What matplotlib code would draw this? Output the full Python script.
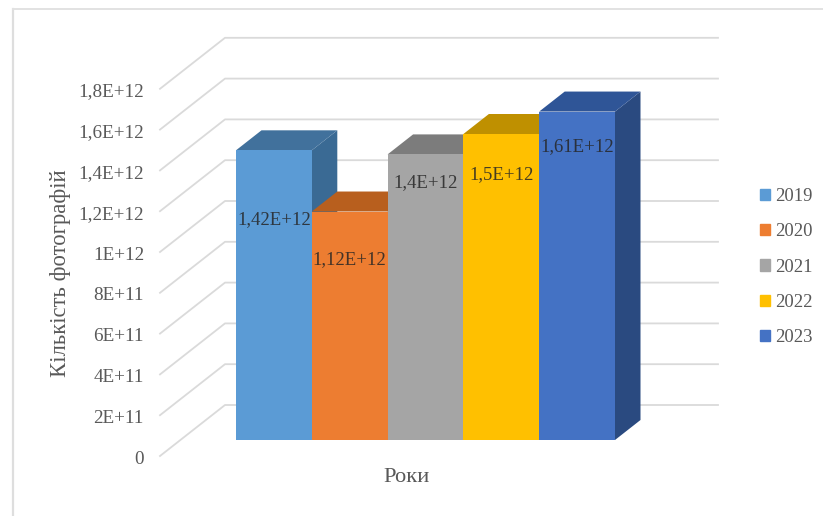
import matplotlib
matplotlib.use('Agg')
import matplotlib.pyplot as plt
from matplotlib.patches import Patch

years = ['2019', '2020', '2021', '2022', '2023']
values = [1.42e12, 1.12e12, 1.40e12, 1.50e12, 1.61e12]
value_labels = ['1,42E+12', '1,12E+12', '1,4E+12', '1,5E+12', '1,61E+12']
tick_values = [0, 2e11, 4e11, 6e11, 8e11, 1e12, 1.2e12, 1.4e12, 1.6e12, 1.8e12]
tick_labels = ['0', '2E+11', '4E+11', '6E+11', '8E+11', '1E+12',
               '1,2E+12', '1,4E+12', '1,6E+12', '1,8E+12']

front_colors = ['#5B9BD5', '#ED7D31', '#A5A5A5', '#FFC000', '#4472C4']
top_colors = ['#41719C', '#B85F1E', '#7C7C7C', '#BF9000', '#2F5597']
side_colors = ['#3A6A94', '#A85418', '#707070', '#AD8200', '#2A4A80']
# how far below the top of each bar its label sits, pixels
label_drop = [69, 48, 28, 41, 35]

W, H = 823, 516
BAR_PX = 75.8          # one category slot
BAR_LEFT = 236
BASE_Y = 440
PX_PER_VALUE = 204 / 1e12

plt.rcParams['font.family'] = ['Liberation Serif', 'DejaVu Serif']

fig = plt.figure(figsize=(W / 100, H / 100), dpi=100)
ax = fig.add_axes([0, 0, 1, 1])
ax.set_xlim(-BAR_LEFT / BAR_PX, (W - BAR_LEFT) / BAR_PX)
ax.set_ylim((BASE_Y - H) / PX_PER_VALUE, BASE_Y / PX_PER_VALUE)
ax.axis('off')


def px_x(px):
    return (px - BAR_LEFT) / BAR_PX


def px_dy(px):
    return px / PX_PER_VALUE


# chart frame, open at the bottom and right
ax.plot([px_x(13), px_x(13)], [px_dy(BASE_Y - 516), px_dy(BASE_Y - 9)], color='#DEDEDE', lw=1.6)
ax.plot([px_x(13), px_x(823)], [px_dy(BASE_Y - 9), px_dy(BASE_Y - 9)], color='#E2E2E2', lw=1.4)

# floor/wall gridlines: diagonal on the side wall, then flat along the back
wall_front = px_dy(-16)
wall_back = px_dy(35)
for v in tick_values:
    ax.plot([px_x(160), px_x(225), px_x(718)],
            [v + wall_front, v + wall_back, v + wall_back],
            color='#DADADA', lw=1.3, zorder=1)

for v, lab in zip(tick_values, tick_labels):
    ax.text(px_x(144), v + wall_front - px_dy(3), lab, ha='right', va='center',
            fontsize=13.8, color='#595959')

# 3D look: side and top faces come from the same values as the fronts
depth_x = 25.5 / BAR_PX
depth_y = px_dy(20)
xs = range(len(values))
for i in xs:
    v = values[i]
    ax.fill([i + 1, i + 1 + depth_x, i + 1 + depth_x, i + 1],
            [0, depth_y, v + depth_y, v], color=side_colors[i], lw=0, zorder=2 + i)
    ax.fill([i, i + depth_x, i + 1 + depth_x, i + 1],
            [v, v + depth_y, v + depth_y, v], color=top_colors[i], lw=0, zorder=2 + i)
    ax.bar(i, v, width=1, align='edge', color=front_colors[i], lw=0, zorder=2 + i)

for i in xs:
    ax.text(i + 0.5, values[i] - px_dy(label_drop[i]), value_labels[i], ha='center',
            va='center', fontsize=13.5, color='#262626', alpha=0.85, zorder=10)

ax.text(px_x(60), px_dy(BASE_Y - 273), 'Кількість фотографій', rotation=90,
        ha='center', va='center', fontsize=16.4, color='#595959')
ax.text(px_x(407), px_dy(BASE_Y - 478), 'Роки', ha='center', va='center',
        fontsize=16.2, color='#595959')

handles = [Patch(color=c, label=y) for c, y in zip(front_colors, years)]
ax.legend(handles=handles, loc='center left',
          bbox_to_anchor=(760 / W, 1 - 267 / H), bbox_transform=fig.transFigure,
          frameon=False, fontsize=13.4, labelcolor='#595959',
          handlelength=0.55, handleheight=0.55, handletextpad=0.27,
          labelspacing=0.98, borderpad=0, borderaxespad=0)

fig.savefig('out.png', dpi=100)
